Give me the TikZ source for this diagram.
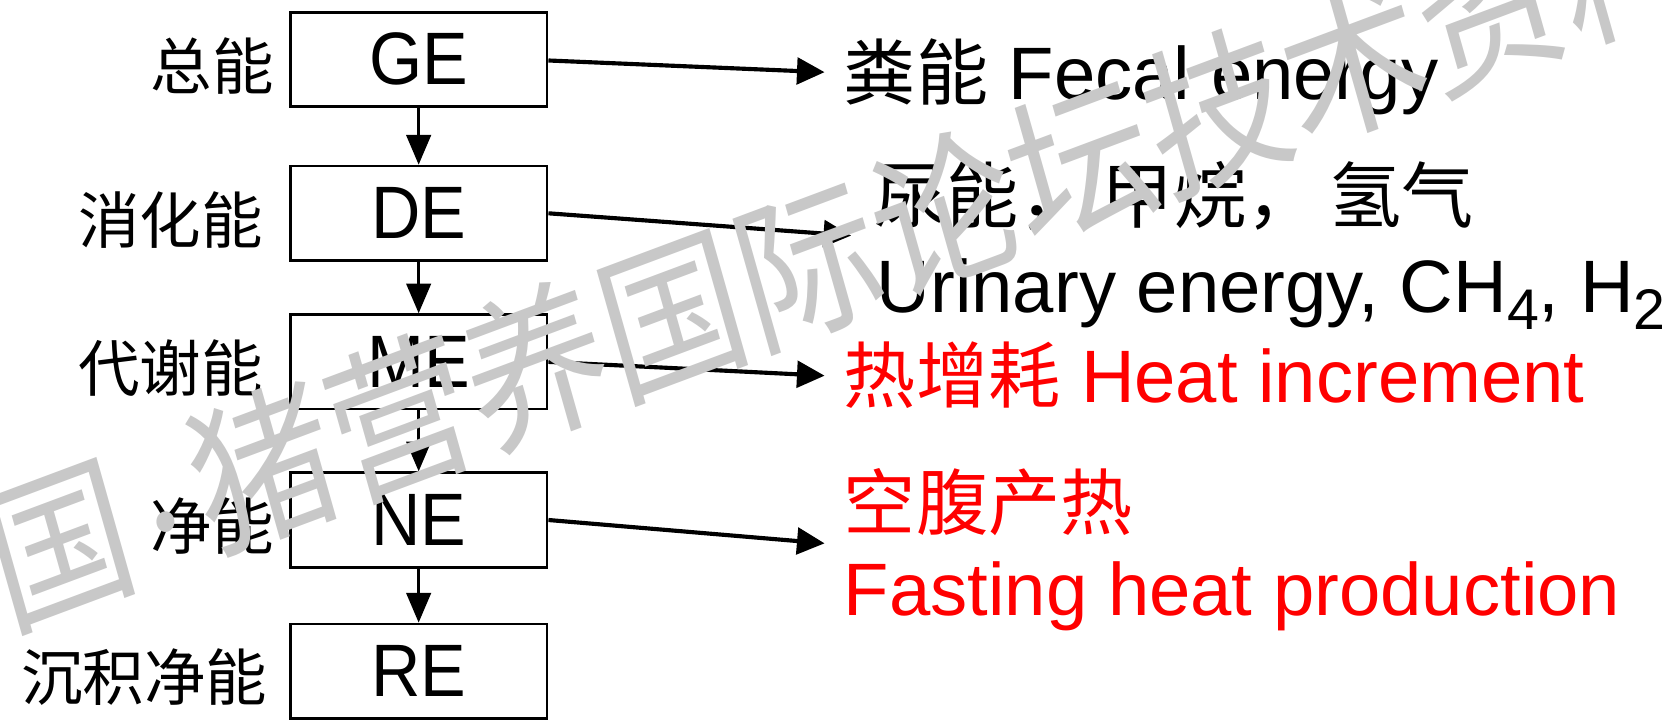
\documentclass[tikz,border=0pt]{standalone}
\usepackage{fontspec}
\setmainfont{Liberation Sans}
\newfontfamily\boxfont[FakeStretch=0.92]{Liberation Sans}
\newfontfamily\cjk{Noto Sans CJK SC}
\usetikzlibrary{arrows.meta}
\definecolor{wmgray}{RGB}{200,200,200}
\begin{document}
\begin{tikzpicture}[x=1pt,y=-1pt,
  ebox/.style={draw, line width=2.6pt, minimum width=242pt, minimum height=89pt, inner sep=0pt,
    font=\boxfont\fontsize{70}{70}\selectfont},
  lbl/.style={anchor=east, inner sep=0pt, font=\cjk\fontsize{58}{58}\selectfont},
  txt/.style={anchor=base west, inner sep=0pt, font=\fontsize{70}{70}\selectfont},
  down/.style={-{Triangle[length=28pt,width=23pt]}, line width=3pt},
  side/.style={-{Triangle[length=26pt,width=25pt]}, line width=3.9pt},
  wm/.style={anchor=west, inner sep=0pt, text=wmgray,
    font=\cjk\fontsize{135}{135}\selectfont}]
\useasboundingbox (0,0) rectangle (1568,679);
% boxes
\node[ebox] (GE) at (394.5,56) {GE};
\node[ebox] (DE) at (394.5,201) {DE};
\node[ebox] (ME) at (394.5,341) {ME};
\node[ebox] (NE) at (394.5,490) {NE};
\node[ebox] (RE) at (394.5,632.5) {RE};
% left labels
\node[lbl] (lGE) at (258,62) {总能};
\node[lbl] (lDE) at (248,207) {消化能};
\node[lbl] (lME) at (248,347) {代谢能};
\node[lbl] (lNE) at (258,496) {净能};
\node[lbl] (lRE) at (252,638) {沉积净能};
% vertical arrows
\draw[down] (GE.south) -- (DE.north);
\draw[down] (DE.south) -- (ME.north);
\draw[down] (ME.south) -- (NE.north);
\draw[down] (NE.south) -- (RE.north);
% side arrows
\coordinate (tGE) at (777,68);
\coordinate (tDE) at (802,222);
\coordinate (tME) at (777,354);
\coordinate (tNE) at (777,512);
\draw[side] (GE.east |- 0,57) -- (tGE);
\draw[side] (DE.east |- 0,201) -- (tDE);
\draw[side] (ME.east |- 0,341) -- (tME);
\draw[side] (NE.east |- 0,490) -- (tNE);
% right texts
\node[txt] (fe) at (795,94) {{\cjk\fontsize{68}{68}\selectfont 粪能} Fecal energy};
\node[txt] (ue1) at (824,210) {\cjk\fontsize{68}{68}\selectfont 尿能，\hspace{0.15em}甲烷，\hspace{0.15em}氢气};
\node[txt] (ue2) at (826,294) {Urinary energy, CH\raisebox{-0.24em}{\fontsize{54}{54}\selectfont 4}, H\raisebox{-0.24em}{\fontsize{54}{54}\selectfont 2}};
\node[txt, text=red] (hi) at (795,379) {{\cjk\fontsize{68}{68}\selectfont 热增耗} Heat increment};
\node[txt, text=red] (fh1) at (795,499) {\cjk\fontsize{68}{68}\selectfont 空腹产热};
\node[txt, text=red] (fh2) at (795,580) {Fasting heat production};
% watermark
\begin{scope}[shift={(55,512)}, yscale=1.15]
\node[wm, rotate=18, transform shape] (wmk) at (-64.2,20.9)
  {国\makebox[0.5em]{\raisebox{0.05em}{\fontsize{80}{80}\selectfont ·}}猪营养国际论坛技术资料};
\end{scope}
\end{tikzpicture}
\end{document}
